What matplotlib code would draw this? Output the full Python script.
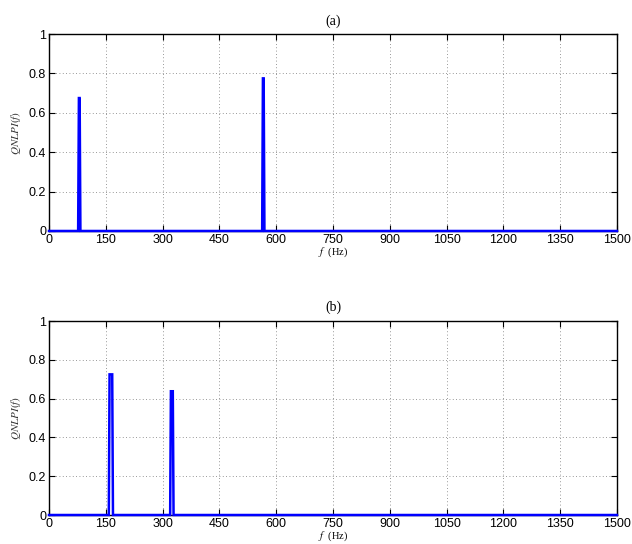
import numpy as np
import matplotlib
matplotlib.use("Agg")
import matplotlib.pyplot as plt

plt.rcParams['mathtext.fontset'] = 'stix'

# spectrum (a): breakpoints of the QNLPI curve, f in Hz
f_a = [0, 77, 79, 81, 83, 563, 565, 567, 569, 1500]
q_a = [0, 0, 0.675, 0.675, 0, 0, 0.775, 0.775, 0, 0]

# spectrum (b)
f_b = [0, 158, 160, 167, 169, 320, 322, 327, 329, 1500]
q_b = [0, 0, 0.725, 0.725, 0, 0, 0.638, 0.638, 0, 0]

xticks = [0, 150, 300, 450, 600, 750, 900, 1050, 1200, 1350, 1500]
yticks = [0, 0.2, 0.4, 0.6, 0.8, 1]
ytick_labels = ['0', '0.2', '0.4', '0.6', '0.8', '1']

fig = plt.figure(figsize=(6.32, 5.44), dpi=100)
ax1 = fig.add_axes([0.0775, 0.5754, 0.8987, 0.362])
ax2 = fig.add_axes([0.0775, 0.0533, 0.8987, 0.3566])

for ax, f, q, title in [(ax1, f_a, q_a, '(a)'), (ax2, f_b, q_b, '(b)')]:
    ax.plot(f, q, color='#0000ff', lw=1.8, solid_joinstyle='miter', clip_on=False, zorder=3)
    ax.set_xlim(0, 1500)
    ax.set_ylim(0, 1)
    ax.set_xticks(xticks)
    ax.set_xticklabels([str(t) for t in xticks], fontfamily='Liberation Sans', fontsize=9)
    ax.set_yticks(yticks)
    ax.set_yticklabels(ytick_labels, fontfamily='Liberation Sans', fontsize=9)
    ax.tick_params(direction='in', length=4, width=0.8, top=True, right=True, pad=2)
    ax.grid(True, linestyle=(0, (1, 3)), color='#777777', lw=0.6)
    for s in ax.spines.values():
        s.set_linewidth(1.0)
    ax.set_title(title, fontfamily='Liberation Serif', fontsize=10, pad=7)
    ax.set_xlabel('$f$  (Hz)', fontfamily='Liberation Serif', fontsize=7.5, labelpad=0)
    ax.set_ylabel('$QNLPI(f)$', fontsize=8, labelpad=4, color='#333333')

fig.savefig('out.png', dpi=100)
